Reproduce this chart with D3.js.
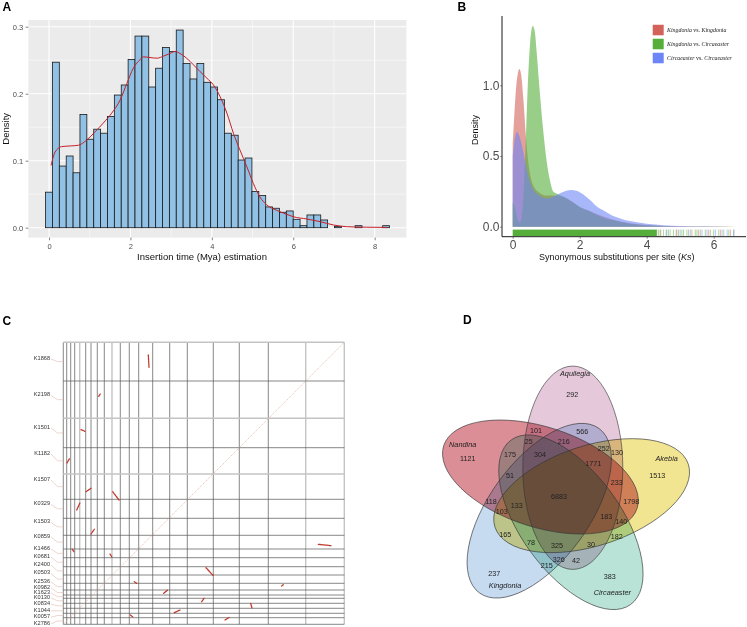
<!DOCTYPE html>
<html><head><meta charset="utf-8">
<script src="https://cdn.jsdelivr.net/npm/d3@7"></script>
<style>
body{margin:0;background:#fff}
svg{display:block;font-family:"Liberation Sans",Arial,sans-serif}
</style>
</head><body>
<svg id="c" width="747" height="627"></svg>
<script>
// ================= DATA =================
// Panel A: histogram of LTR insertion times (density per bin)
const histBinStart = -0.085;
const histBinWidth = 0.169;
const histDensity = [0.053,0.247,0.092,0.107,0.082,0.169,0.132,0.147,0.141,0.166,
  0.198,0.213,0.251,0.286,0.286,0.210,0.238,0.269,0.263,0.295,
  0.245,0.222,0.245,0.217,0.210,0.191,0.141,0.138,0.101,0.104,
  0.054,0.048,0.031,0.029,0.023,0.025,0.0125,0.003,0.019,0.019,
  0.0115,0,0.002,0,0,0.003,0,0,0,0.003];
const insertKdeX = [0.05,0.15,0.31,0.52,0.72,0.93,1.13,1.33,1.54,1.75,1.91,2.07,2.24,2.32,2.48,2.65,2.81,2.97,3.10,3.22,3.38,3.55,3.71,3.88,4.04,4.20,4.37,4.53,4.69,4.86,5.02,5.18,5.35,5.59,5.84,6.00,6.33,6.66,6.99,7.31,7.80,8.30];
const insertKdeY = [0.093,0.113,0.121,0.122,0.123,0.131,0.143,0.156,0.171,0.191,0.215,0.238,0.251,0.255,0.254,0.253,0.256,0.260,0.263,0.260,0.253,0.243,0.233,0.223,0.213,0.196,0.171,0.141,0.116,0.091,0.066,0.046,0.034,0.026,0.020,0.0164,0.013,0.009,0.004,0.0015,0.0007,0.0004];
const aXTicks = [0,2,4,6,8];
const aXMinor = [1,3,5,7];
const aYTicks = [0,0.1,0.2,0.3];
const aYMinor = [0.05,0.15,0.25];

// Panel B: Ks density
const ksGroups = ["Kingdonia vs. Kingdonia","Kingdonia vs. Circaeaster","Circaeaster vs. Circaeaster"];
const ksKKx = [0,0.05,0.1,0.15,0.2,0.25,0.32,0.4,0.5,0.6,0.8,1.0,1.2,1.5,1.75,2.0,2.25,2.5,3.0,3.5,4.0,5.0,6.0,6.65];
const ksKKy = [0.59,0.8,0.98,1.08,1.116,1.08,0.9,0.62,0.4,0.3,0.24,0.22,0.22,0.21,0.18,0.14,0.115,0.09,0.05,0.025,0.012,0.003,0.001,0];
const ksKCx = [0,0.05,0.1,0.15,0.22,0.3,0.38,0.45,0.52,0.6,0.66,0.72,0.82,0.92,1.01,1.11,1.21,1.31,1.5,1.75,2.0,2.25,2.5,2.75,3.0,3.5,4.0,4.5,5.0,6.0,6.65];
const ksKCy = [0.17,0.15,0.1,0.05,0.03,0.15,0.55,1.0,1.3,1.42,1.38,1.22,0.92,0.66,0.47,0.33,0.25,0.235,0.215,0.18,0.14,0.115,0.085,0.06,0.045,0.02,0.008,0.004,0.002,0.001,0];
const ksCCx = [0,0.05,0.13,0.2,0.3,0.4,0.5,0.6,0.8,1.0,1.2,1.4,1.6,1.75,1.9,2.1,2.3,2.5,2.75,3.0,3.25,3.5,4.0,4.5,5.0,5.5,6.0,6.65];
const ksCCy = [0.5,0.6,0.67,0.64,0.55,0.43,0.33,0.27,0.22,0.2,0.21,0.235,0.255,0.26,0.255,0.23,0.19,0.145,0.11,0.075,0.055,0.04,0.02,0.01,0.005,0.003,0.002,0];
const ksRugDense = [0, 4.3];
const ksRugKC = [4.3,4.35,4.42,4.5,4.58,4.65,4.7,4.8,4.88,4.95,5.05,5.1,5.2,5.3,5.45,5.5,5.6,5.75,5.9,6.0,6.15,6.3,6.45,6.6];
const ksRugKK = [4.4,4.9,5.35,5.55,5.85,6.2,6.5];
const ksRugCC = [4.6,5.0,5.25,5.65,5.8,6.05,6.25,6.4,6.6];
const bXTicks = [0,2,4,6];
const bYTicks = [0,0.5,1.0];

// Panel C: dot plot
const dotXChromLen = [3.4,4,4,5,6,5.3,6.3,7,7.7,8.3,9,9.4,14,17,17.6,26,26,29,37.4,38.6];
const dotYChrom = ["K1868","K2198","K1501","K1182","K1507","K0329","K1503","K0859","K1466","K0681","K2400","K0503","K2536","K0982","K1623","K0130","K0834","K1044","K0057","K2786"];
const dotYChromLen = [38.7,37.3,29.4,26.3,25.3,19,17,13.7,8.7,9,8.3,8.3,6.7,5,3.3,5,5,5,4.4,6.6];
const dotBlocks = [
  [85,12.7,85.7,25],[35.4,54,37,51.7],[17.7,87.4,21.7,89],[3.7,120.7,6.4,116],
  [22.7,149.4,27.7,146],[49.4,149.4,55.7,157.7],[13.4,167.7,16.7,160.4],[27.7,191.7,31,187],
  [9,207,10.7,209.4],[46.7,211.7,48.4,214.4],[71,239.4,73.4,241],[100.4,251,104.4,247.7],
  [67,272.7,69.4,274.4],[111,270.4,116.7,267.7],[142.7,225.4,150,233.4],[255,202,267.7,203.4],
  [218.4,243.7,220,242.4],[138.4,259.4,140.7,256],[187.4,261,188.7,266],[161.7,277.7,166,275]
];

// Panel D: five-set Venn
const vennSets = ["Aquilegia","Nandina","Kingdonia","Circaeaster","Akebia"];
const vennCounts = [292,1121,237,383,1513,101,566,25,216,252,130,175,304,1771,51,233,6883,118,1798,133,103,183,140,165,182,78,325,30,326,42,215];

// ================= LAYOUT =================
const svg = d3.select("#c");
const grey30 = "#4D4D4D";

function panelLetter(t, x, y){
  svg.append("text").attr("x",x).attr("y",y).text(t)
    .attr("font-weight","bold").attr("font-size",12).attr("fill","#000");
}

// ---------- Panel A ----------
(function(){
  const xA = d3.scaleLinear().domain([-0.507, 8.78]).range([28.4, 406.4]);
  const yA = d3.scaleLinear().domain([-0.0148, 0.31]).range([237.6, 20]);
  const g = svg.append("g");
  const [x0,x1] = xA.range(), [y0,y1] = yA.range();
  g.append("rect").attr("x",x0).attr("y",y1).attr("width",x1-x0).attr("height",y0-y1).attr("fill","#EBEBEB");
  aXMinor.forEach(v=>g.append("line").attr("x1",xA(v)).attr("x2",xA(v)).attr("y1",y1).attr("y2",y0).attr("stroke","#fff").attr("stroke-width",0.5));
  aYMinor.forEach(v=>g.append("line").attr("y1",yA(v)).attr("y2",yA(v)).attr("x1",x0).attr("x2",x1).attr("stroke","#fff").attr("stroke-width",0.5));
  aXTicks.forEach(v=>g.append("line").attr("x1",xA(v)).attr("x2",xA(v)).attr("y1",y1).attr("y2",y0).attr("stroke","#fff").attr("stroke-width",1.1));
  aYTicks.forEach(v=>g.append("line").attr("y1",yA(v)).attr("y2",yA(v)).attr("x1",x0).attr("x2",x1).attr("stroke","#fff").attr("stroke-width",1.1));

  g.selectAll("rect.bar").data(histDensity).enter().append("rect").attr("class","bar")
    .attr("x",(d,i)=>xA(histBinStart+i*histBinWidth))
    .attr("width",(d,i)=>xA(histBinStart+(i+1)*histBinWidth)-xA(histBinStart+i*histBinWidth))
    .attr("y",d=>yA(d)).attr("height",d=>yA(0)-yA(d))
    .attr("fill","#91C1E4").attr("stroke","#1a1a1a").attr("stroke-width",0.8);

  const line = d3.line().x(d=>xA(d[0])).y(d=>yA(d[1])).curve(d3.curveMonotoneX);
  g.append("path").datum(insertKdeX.map((x,i)=>[x,insertKdeY[i]])).attr("d",line)
    .attr("fill","none").attr("stroke","#C8202A").attr("stroke-width",1);

  const ay = g.append("g").attr("transform",`translate(${x0},0)`)
    .call(d3.axisLeft(yA).tickValues(aYTicks).tickFormat(d3.format(".1f")).tickSize(2.7).tickPadding(2.4));
  const ax = g.append("g").attr("transform",`translate(0,${y0})`)
    .call(d3.axisBottom(xA).tickValues(aXTicks).tickFormat(d3.format("d")).tickSize(2.7).tickPadding(3));
  [ay,ax].forEach(a=>{a.select(".domain").remove(); a.attr("font-family",null).attr("font-size",7.5);
    a.selectAll("line").attr("stroke","#333").attr("stroke-width",0.6);
    a.selectAll("text").attr("fill",grey30);});
  g.append("text").attr("x",202).attr("y",259.5).attr("text-anchor","middle").attr("font-size",9.5).attr("fill","#111").text("Insertion time (Mya) estimation");
  g.append("text").attr("transform","translate(8.5,128.8) rotate(-90)").attr("text-anchor","middle").attr("font-size",9.5).attr("fill","#111").text("Density");
})();
panelLetter("A",2.5,11);

// ---------- Panel B ----------
(function(){
  const xB = d3.scaleLinear().domain([0,6]).range([512.7,713.7]);
  const yB = d3.scaleLinear().domain([0,1]).range([226.7,85.4]);
  const colors = ["#D2625A","#55AE3A","#6E85F7"];
  const g = svg.append("g");
  const area = d3.area().x(d=>xB(d[0])).y0(yB(0)).y1(d=>yB(d[1])).curve(d3.curveMonotoneX);
  const series = [[ksKKx,ksKKy],[ksKCx,ksKCy],[ksCCx,ksCCy]];
  series.forEach((s,i)=>{
    g.append("path").datum(s[0].map((x,j)=>[x,s[1][j]])).attr("d",area)
      .attr("fill",colors[i]).attr("fill-opacity",0.6);
  });
  // rug
  const ry0 = 229.6, ry1 = 236;
  g.append("rect").attr("x",xB(ksRugDense[0])).attr("y",ry0).attr("width",xB(ksRugDense[1])-xB(ksRugDense[0])).attr("height",ry1-ry0).attr("fill",colors[1]);
  [[ksRugKC,1],[ksRugKK,0],[ksRugCC,2]].forEach(([arr,ci])=>{
    arr.forEach(v=>g.append("line").attr("x1",xB(v)).attr("x2",xB(v)).attr("y1",ry0).attr("y2",ry1)
      .attr("stroke",colors[ci]).attr("stroke-opacity",0.55).attr("stroke-width",0.9));
  });
  // axes
  g.append("line").attr("x1",502).attr("x2",502).attr("y1",16).attr("y2",236.7).attr("stroke","#000").attr("stroke-width",0.9);
  g.append("line").attr("x1",502).attr("x2",746).attr("y1",236.7).attr("y2",236.7).attr("stroke","#000").attr("stroke-width",0.9);
  const ay = g.append("g").attr("transform","translate(502,0)")
    .call(d3.axisLeft(yB).tickValues(bYTicks).tickFormat(d3.format(".1f")).tickSize(1.8).tickPadding(0.8));
  const ax = g.append("g").attr("transform","translate(0,236.7)")
    .call(d3.axisBottom(xB).tickValues(bXTicks).tickFormat(d3.format("d")).tickSize(2).tickPadding(2));
  [ay,ax].forEach(a=>{a.select(".domain").remove(); a.attr("font-family",null).attr("font-size",12);
    a.selectAll("line").attr("stroke","#333").attr("stroke-width",0.6);
    a.selectAll("text").attr("fill",grey30);});
  const xt = g.append("text").attr("x",616.7).attr("y",260).attr("text-anchor","middle").attr("font-size",9).attr("fill","#111");
  xt.append("tspan").text("Synonymous substitutions per site (");
  xt.append("tspan").attr("font-style","italic").text("Ks");
  xt.append("tspan").text(")");
  g.append("text").attr("transform","translate(478.2,130) rotate(-90)").attr("text-anchor","middle").attr("font-size",9).attr("fill","#111").text("Density");
  // legend
  ksGroups.forEach((name,i)=>{
    const y = 24.4 + i*14;
    g.append("rect").attr("x",652.3).attr("y",y).attr("width",11.7).attr("height",11.3).attr("fill",colors[i]).attr("stroke","#fff").attr("stroke-width",0.6);
    const parts = name.split(" vs. ");
    const t = g.append("text").attr("x",667).attr("y",y+7.8).attr("font-size",5.9).attr("font-family","'Liberation Serif',serif").attr("fill","#222");
    t.append("tspan").attr("font-style","italic").text(parts[0]);
    t.append("tspan").text(" vs. ");
    t.append("tspan").attr("font-style","italic").text(parts[1]);
  });
})();
panelLetter("B",457.5,11);

// ---------- Panel C ----------
(function(){
  const totX = d3.sum(dotXChromLen), totY = d3.sum(dotYChromLen);
  const xC = d3.scaleLinear().domain([0,totX]).range([63.3,344.3]);
  const yC = d3.scaleLinear().domain([0,totY]).range([342.3,624.3]);
  const g = svg.append("g");
  const xb = [0]; dotXChromLen.forEach(v=>xb.push(xb[xb.length-1]+v));
  const yb = [0]; dotYChromLen.forEach(v=>yb.push(yb[yb.length-1]+v));
  const lightX = new Set([4,9,19,20]);
  const lightY = new Set([0,2,4]);
  xb.forEach((v,i)=>g.append("line").attr("x1",xC(v)).attr("x2",xC(v)).attr("y1",yC(0)).attr("y2",yC(totY))
    .attr("stroke",lightX.has(i)?"#c4c4c4":"#555").attr("stroke-width",lightX.has(i)?1.4:0.7));
  yb.forEach((v,i)=>g.append("line").attr("y1",yC(v)).attr("y2",yC(v)).attr("x1",xC(0)).attr("x2",xC(totX))
    .attr("stroke",lightY.has(i)?"#c4c4c4":"#555").attr("stroke-width",lightY.has(i)?1.4:0.7));
  // diagonal
  g.append("line").attr("x1",xC(0)).attr("y1",yC(totY)).attr("x2",xC(totX)).attr("y2",yC(0))
    .attr("stroke","#E0A898").attr("stroke-width",0.7).attr("stroke-dasharray","1.2,1");
  // blocks
  dotBlocks.forEach(b=>g.append("line").attr("x1",xC(b[0])).attr("y1",yC(b[1])).attr("x2",xC(b[2])).attr("y2",yC(b[3]))
    .attr("stroke","#C0392B").attr("stroke-width",1.3).attr("stroke-dasharray","2,0.8").attr("stroke-linecap","round"));
  // labels (layout positions)
  const labelY = [357.7,394.3,426.7,452.7,479,503.3,521.3,535.7,547.7,556,564,572.3,580.7,586.7,591.7,596.7,603,609.7,616,622.7];
  dotYChrom.forEach((name,i)=>{
    const mid = yC((yb[i]+yb[i+1])/2);
    g.append("path").attr("d",`M51,${labelY[i]+1.2} L57.5,${mid} L${xC(0)},${mid}`)
      .attr("fill","none").attr("stroke","#E2B8AE").attr("stroke-width",0.6);
    g.append("text").attr("x",50).attr("y",labelY[i]+2).attr("text-anchor","end").attr("font-size",5.6).attr("fill","#333").text(name);
  });
})();
panelLetter("C",2.5,325);

// ---------- Panel D ----------
(function(){
  const vx = d3.scaleLinear().domain([0,1100]).range([380,380+1100/3]);
  const vy = d3.scaleLinear().domain([0,981]).range([300,300+981/3]);
  const k = vx(1)-vx(0);
  const C = [549,584], dist = 86, semiA = 305, semiB = 150;
  const angles = [70,142,214,286,358];
  const fills = ["#E5C9DB","#DC8E96","#C6DAF0","#B8E3D6","#F2E592"];
  const g = svg.append("g").style("isolation","isolate");
  vennSets.forEach((s,i)=>{
    const th = angles[i]*Math.PI/180;
    const cx = vx(C[0]+dist*Math.cos(th)), cy = vy(C[1]-dist*Math.sin(th));
    g.append("ellipse").attr("cx",cx).attr("cy",cy).attr("rx",semiA*k).attr("ry",semiB*k)
      .attr("transform",`rotate(${-(angles[i]+20)},${cx},${cy})`)
      .attr("fill",fills[i]).style("mix-blend-mode","multiply");
  });
  vennSets.forEach((s,i)=>{
    const th = angles[i]*Math.PI/180;
    const cx = vx(C[0]+dist*Math.cos(th)), cy = vy(C[1]-dist*Math.sin(th));
    g.append("ellipse").attr("cx",cx).attr("cy",cy).attr("rx",semiA*k).attr("ry",semiB*k)
      .attr("transform",`rotate(${-(angles[i]+20)},${cx},${cy})`)
      .attr("fill","none").attr("stroke","#333").attr("stroke-width",0.6);
  });
  const setLabelPos = [[585,220],[248,434],[375,857],[697,877],[860,474]];
  vennSets.forEach((s,i)=>svg.append("text").attr("x",vx(setLabelPos[i][0])).attr("y",vy(setLabelPos[i][1])+2.5)
    .attr("text-anchor","middle").attr("font-size",7.3).attr("font-style","italic").attr("fill","#222").text(s));
  const countPos = [[577,283],[263,474],[343,821],[689,830],[832,525],[468,390],[607,395],[446,423],[551,423],[671,444],[711,457],[390,463],[480,462],[640,489],[390,527],[710,548],[537,588],[333,603],[754,604],[410,617],[365,635],[679,649],[724,665],[376,702],[710,708],[453,728],[531,736],[633,732],[536,777],[588,780],[500,795]];
  vennCounts.forEach((c,i)=>svg.append("text").attr("x",vx(countPos[i][0])).attr("y",vy(countPos[i][1])+2.5)
    .attr("text-anchor","middle").attr("font-size",7.2).attr("fill","#222").text(c));
})();
panelLetter("D",463,324);
</script>
</body></html>
